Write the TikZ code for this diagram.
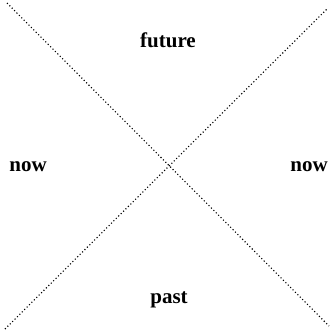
\documentclass[tikz,border=0pt]{standalone}
\usepackage{fontspec}
\setmainfont{Liberation Serif}
\begin{document}
\begin{tikzpicture}[x=1pt,y=-1pt,
  cone/.style={line width=1.1pt, dash pattern=on 1.1pt off 2.3pt, line cap=butt},
  lbl/.style={font=\fontsize{21}{24}\selectfont\bfseries, anchor=base, inner sep=0pt}]
\useasboundingbox (0,0) rectangle (330,333);
\coordinate (a1) at (7,3);
\coordinate (a2) at (329,326);
\coordinate (b1) at (5,329);
\coordinate (b2) at (328,8);
\draw[cone] (a1) -- (a2);
\draw[cone] (b1) -- (b2);
\node[lbl] (future) at (168,47) {future};
\node[lbl] (past) at (169,303) {past};
\node[lbl] (nowl) at (28,171) {now};
\node[lbl] (nowr) at (309,171) {now};
\end{tikzpicture}
\end{document}
